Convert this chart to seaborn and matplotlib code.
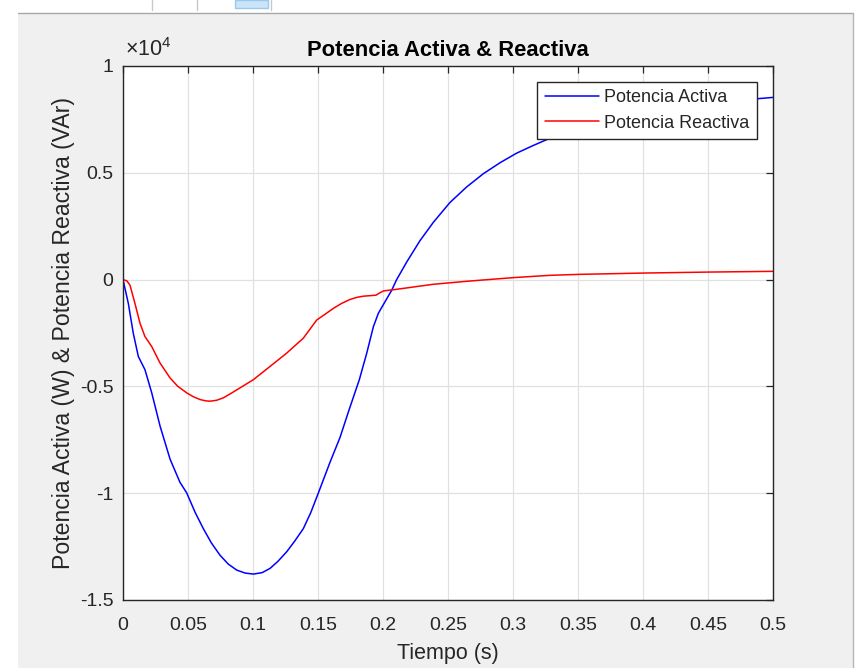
import numpy as np
import pandas as pd
import matplotlib
matplotlib.use('Agg')
import matplotlib.pyplot as plt
import seaborn as sns
from matplotlib.ticker import FuncFormatter, MultipleLocator
from matplotlib.patches import Rectangle
from matplotlib.lines import Line2D

# Potencia activa (W)
t_activa = [0.0, 0.0041, 0.0079, 0.0118, 0.0169, 0.0221, 0.0285, 0.0362, 0.0438, 0.049,
            0.0555, 0.0618, 0.068, 0.0746, 0.081, 0.0875, 0.094, 0.1003, 0.107, 0.1131,
            0.119, 0.1259, 0.132, 0.1387, 0.1445, 0.1503, 0.1592, 0.1669, 0.174,
            0.1818, 0.1875, 0.1926, 0.1964, 0.2015, 0.2067, 0.2105, 0.2182, 0.2285, 0.2387,
            0.2515, 0.2644, 0.2772, 0.29, 0.3028, 0.3156, 0.3285, 0.35, 0.375, 0.4,
            0.425, 0.45, 0.475, 0.5]
p_activa = [0, -1116, -2512, -3600, -4219, -5302, -6856, -8405, -9488, -9986,
            -10900, -11660, -12330, -12902, -13320, -13600, -13740, -13786, -13720, -13521,
            -13200, -12744, -12250, -11660, -10900, -9986, -8558, -7395, -6080,
            -4684, -3442, -2205, -1581, -1042, -498, 0, 819, 1828, 2679,
            3609, 4340, 4958, 5470, 5920, 6280, 6620, 7050, 7450, 7780,
            8030, 8230, 8400, 8530]

# Potencia reactiva (VAr)
t_reactiva = [0.0, 0.003, 0.0054, 0.0092, 0.0131, 0.0169, 0.0221, 0.0285, 0.0362, 0.042,
              0.049, 0.054, 0.0592, 0.0635, 0.0669, 0.072, 0.0772, 0.083, 0.09, 0.1003,
              0.1131, 0.1259, 0.1387, 0.149, 0.155, 0.1618, 0.168, 0.1746, 0.18,
              0.1849, 0.1946, 0.197, 0.2003, 0.2092, 0.2387, 0.2644, 0.3003, 0.3285, 0.3515,
              0.401, 0.451, 0.5]
q_reactiva = [0, -60, -265, -1116, -2047, -2667, -3135, -3907, -4605, -4990,
              -5302, -5480, -5614, -5675, -5693, -5650, -5535, -5330, -5070, -4684,
              -4065, -3442, -2744, -1893, -1640, -1349, -1120, -930, -830,
              -777, -730, -640, -530, -465, -219, -79, 93, 200, 246,
              307, 353, 386]

x_ticks = [0, 0.05, 0.1, 0.15, 0.2, 0.25, 0.3, 0.35, 0.4, 0.45, 0.5]

df_a = pd.DataFrame({'t': t_activa, 'P': p_activa})
df_r = pd.DataFrame({'t': t_reactiva, 'Q': q_reactiva})

sns.set_style('white')
plt.rcParams['font.family'] = ['Liberation Sans', 'DejaVu Sans']
plt.rcParams['axes.unicode_minus'] = False
plt.rcParams['mathtext.fontset'] = 'custom'
plt.rcParams['mathtext.rm'] = 'Liberation Sans'
plt.rcParams['mathtext.it'] = 'Liberation Sans'

txt = '#262626'
fig = plt.figure(figsize=(8.56, 6.68), dpi=100, facecolor='white')

# fondo gris de la ventana
W, H = 856, 668
fig.patches.append(Rectangle((18 / W, 0), (853 - 18) / W, (H - 13) / H, transform=fig.transFigure,
                             facecolor='#f0f0f0', edgecolor='none', zorder=-10))
fig.lines.append(Line2D([18 / W, 853 / W], [(H - 13) / H] * 2, transform=fig.transFigure,
                        color='#a8a8a8', lw=1))
fig.lines.append(Line2D([853 / W] * 2, [0, (H - 13) / H], transform=fig.transFigure,
                        color='#b4b4b4', lw=1))
for xp in [152, 197, 271]:
    fig.lines.append(Line2D([xp / W] * 2, [(H - 10) / H, 1], transform=fig.transFigure,
                            color='#c8c8c8', lw=1))
fig.patches.append(Rectangle((235 / W, (H - 8) / H), 33 / W, 8 / H, transform=fig.transFigure,
                             facecolor='#cce4f7', edgecolor='#99c9ef', lw=1))

ax = fig.add_axes([123 / W, 68 / H, 650 / W, 534 / H])
ax.set_facecolor('white')

sns.lineplot(data=df_a, x='t', y='P', ax=ax, color='#0000ff', lw=1.1, sort=False,
             label='Potencia Activa')
sns.lineplot(data=df_r, x='t', y='Q', ax=ax, color='#ff0000', lw=1.1, sort=False,
             label='Potencia Reactiva')

ax.set_xlim(0, 0.5)
ax.set_ylim(-15000, 10000)
ax.set_xticks(x_ticks)
ax.xaxis.set_major_formatter(FuncFormatter(lambda v, p: f'{v:g}'))
ax.yaxis.set_major_locator(MultipleLocator(5000))
ax.yaxis.set_major_formatter(FuncFormatter(lambda v, p: f'{v / 1e4:g}'))

ax.grid(True, color='#e1e1e1', lw=0.9)
ax.set_axisbelow(True)
for s in ax.spines.values():
    s.set_color(txt)
    s.set_linewidth(1.0)
ax.tick_params(direction='in', top=True, right=True, length=5, width=0.9,
               colors=txt, labelsize=14)
ax.tick_params(axis='x', pad=12)
ax.tick_params(axis='y', pad=7)

ax.set_xlabel('Tiempo (s)', fontsize=15.5, color=txt, labelpad=7)
ax.set_ylabel('Potencia Activa (W) & Potencia Reactiva (VAr)', fontsize=16.6, color=txt, labelpad=3)
ax.set_title('Potencia Activa & Reactiva', fontsize=15.8, fontweight='bold', color='black', pad=7)
ax.text(0.003, 1.01, r'$\times\mathregular{10^4}$', transform=ax.transAxes, ha='left', va='bottom',
        fontsize=15.5, color=txt)

leg = ax.legend(loc='upper right', fontsize=13, frameon=True, fancybox=False, framealpha=1,
                edgecolor=txt, borderaxespad=0.9, borderpad=0.4, handlelength=3.0,
                handletextpad=0.3, labelspacing=0.45)
leg.get_frame().set_linewidth(1.0)
for t in leg.get_texts():
    t.set_color(txt)

fig.savefig('out.png', dpi=100, facecolor=fig.get_facecolor())
